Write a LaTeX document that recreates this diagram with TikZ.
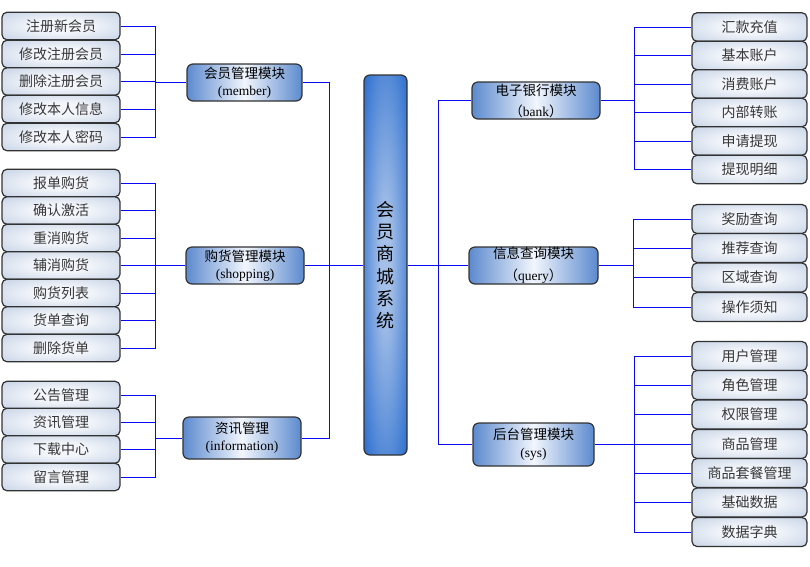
\documentclass[tikz,border=0pt]{standalone}
\usepackage{fontspec}
\setmainfont{Liberation Serif}
\newfontfamily\cjk{Noto Sans CJK SC}
\definecolor{linec}{RGB}{10,10,240}
\definecolor{childout}{RGB}{172,191,218}
\definecolor{childin}{RGB}{242,245,250}
\definecolor{modedge}{RGB}{92,138,206}
\definecolor{modmid}{RGB}{242,246,253}
\definecolor{cenedge}{RGB}{40,108,206}
\definecolor{cenmid}{RGB}{165,192,232}
\definecolor{bord}{RGB}{50,50,50}
\definecolor{leaftext}{RGB}{55,55,55}
\pgfdeclareradialshading{leafshade}{\pgfpoint{0bp}{0bp}}{color(0bp)=(childin); color(12bp)=(childin); color(50bp)=(childout); color(100bp)=(childout)}
\pgfdeclareradialshading{censhade}{\pgfpoint{0bp}{0bp}}{color(0bp)=(cenmid); color(6bp)=(cenmid); color(36bp)=(cenedge); color(100bp)=(cenedge)}
\tikzset{
  leaf/.style={draw=bord, line width=1.2pt, rounded corners=5pt, shading=leafshade,
    minimum height=27.5pt, inner sep=0pt,
    font=\cjk\fontsize{14}{16}\selectfont, text=leaftext},
  lleaf/.style={leaf, minimum width=118pt},
  rleaf/.style={leaf, minimum width=115pt},
  module/.style={draw=bord, line width=1.2pt, rounded corners=6pt,
    left color=modedge, right color=modedge, middle color=modmid,
    align=center, inner sep=0pt, font=\fontsize{13.5}{17}\selectfont},
  centerbox/.style={draw=bord, line width=1.2pt, rounded corners=6pt, shading=censhade,
    align=center, inner sep=0pt, font=\cjk\fontsize{18}{22.3}\selectfont},
  conn/.style={draw=linec, line width=1pt},
}
\begin{document}
\begin{tikzpicture}[x=1pt,y=-1pt]
\useasboundingbox (0,0) rectangle (810,566);
% centre
\node[centerbox, minimum width=43pt, minimum height=380pt] (ctr) at (385.5,265) {会\\员\\商\\城\\系\\统};
% left modules
\node[module, minimum width=115pt, minimum height=37pt] (mem) at (244.5,82.5) {{\cjk 会员管理模块}\\(member)};
\node[module, minimum width=118pt, minimum height=37pt] (shop) at (245,265.5) {{\cjk 购货管理模块}\\(shopping)};
\node[module, minimum width=118pt, minimum height=42pt] (info) at (242,438) {{\cjk 资讯管理}\\(information)};
% right modules
\node[module, minimum width=128pt, minimum height=37pt, font=\fontsize{13.5}{21}\selectfont] (bank) at (536,100.5) {{\cjk 电子银行模块}\\{\cjk （}bank{\cjk ）}};
\node[module, minimum width=129pt, minimum height=37pt, font=\fontsize{13.5}{22}\selectfont] (query) at (533.5,265.5) {{\cjk 信息查询模块}\\{\cjk （}query{\cjk ）}};
\node[module, minimum width=121pt, minimum height=43pt, font=\fontsize{13.5}{18}\selectfont] (sysm) at (533.5,444.5) {{\cjk 后台管理模块}\\(sys)};
% left leaves
\foreach \t/\y [count=\i] in {注册新会员/26, 修改注册会员/54, 删除注册会员/81.5, 修改本人信息/109, 修改本人密码/137}
  \node[lleaf] (m\i) at (61,\y) {\t};
\foreach \t/\y [count=\i] in {报单购货/183, 确认激活/210.5, 重消购货/238, 辅消购货/265.5, 购货列表/293, 货单查询/320.5, 删除货单/348}
  \node[lleaf] (s\i) at (61,\y) {\t};
\foreach \t/\y [count=\i] in {公告管理/395, 资讯管理/422, 下载中心/449.5, 留言管理/477}
  \node[lleaf] (n\i) at (61,\y) {\t};
% right leaves
\foreach \t/\y [count=\i] in {汇款充值/27, 基本账户/55.5, 消费账户/84, 内部转账/112.5, 申请提现/141, 提现明细/169.5}
  \node[rleaf, minimum height=28.5pt] (b\i) at (749.5,\y) {\t};
\foreach \t/\y [count=\i] in {奖励查询/219, 推荐查询/248, 区域查询/277.5, 操作须知/307}
  \node[rleaf, minimum height=29pt] (q\i) at (749.5,\y) {\t};
\foreach \t/\y [count=\i] in {用户管理/356, 角色管理/385, 权限管理/414.5, 商品管理/444, 商品套餐管理/473, 基础数据/502.5, 数据字典/532}
  \node[rleaf, minimum height=29pt] (y\i) at (749.5,\y) {\t};
% connectors: leaves to modules
\foreach \i in {1,...,5} \draw[conn] (m\i.east) -- ++(35,0) |- (mem.west);
\foreach \i in {1,...,7} \draw[conn] (s\i.east) -- ++(35,0) |- (shop.west);
\foreach \i in {1,...,4} \draw[conn] (n\i.east) -- ++(35,0) |- (info.west);
\foreach \i in {1,...,6} \draw[conn] (b\i.west) -- ++(-57,0) |- (bank.east);
\foreach \i in {1,...,4} \draw[conn] (q\i.west) -- ++(-58,0) |- (query.east);
\foreach \i in {1,...,7} \draw[conn] (y\i.west) -- ++(-57,0) |- (sysm.east);
% connectors: modules to centre
\draw[conn] (ctr.west) -- ++(-34,0) |- (mem.east);
\draw[conn] (ctr.west) -- ++(-34,0) |- (shop.east);
\draw[conn] (ctr.west) -- ++(-34,0) |- (info.east);
\draw[conn] (ctr.east) -- ++(31,0) |- (bank.west);
\draw[conn] (ctr.east) -- ++(31,0) |- (query.west);
\draw[conn] (ctr.east) -- ++(31,0) |- (sysm.west);
\end{tikzpicture}
\end{document}
